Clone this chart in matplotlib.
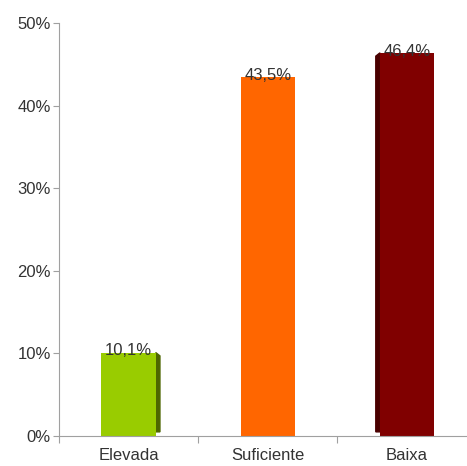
import matplotlib.pyplot as plt
from matplotlib.patches import Polygon
from matplotlib.ticker import FuncFormatter

plt.rcParams['font.family'] = ['Liberation Sans', 'DejaVu Sans']

categories = ['Elevada', 'Suficiente', 'Baixa']
values = [10.1, 43.5, 46.4]
labels = ['10,1%', '43,5%', '46,4%']
colors = ['#99cc00', '#ff6600', '#800000']
side_colors = ['#4d6600', None, '#4a0000']
side_dir = [1, 0, -1]

fig = plt.figure(figsize=(4.67, 4.66), dpi=100)
ax = fig.add_axes([0.1263, 0.0644, 0.8737, 0.886])

x = list(range(len(categories)))
width = 0.39
bars = ax.bar(x, values, width=width, color=colors, zorder=2)

# thin shaded side faces to give the bars a bit of depth
dx, dy = 0.03, 0.4
for bar, sc, d in zip(bars, side_colors, side_dir):
    if sc is None:
        continue
    h = bar.get_height()
    edge = bar.get_x() + (bar.get_width() if d > 0 else 0)
    poly = Polygon([(edge, 0.5), (edge + d * dx, 0.5),
                    (edge + d * dx, h - dy), (edge, h)],
                   closed=True, color=sc, zorder=1)
    ax.add_patch(poly)

for xi, v, lab in zip(x, values, labels):
    ax.text(xi, v + 0.2, lab, ha='center', va='center', fontsize=12,
            color='#333333', zorder=3)

ax.set_xlim(-0.5, 2.43)
ax.set_ylim(0, 50)
ax.set_yticks(range(0, 51, 10))
ax.yaxis.set_major_formatter(FuncFormatter(lambda v, p: f'{int(v)}%'))

ax.set_xticks([-0.5, 0.5, 1.5])
ax.set_xticklabels([])
ax.set_xticks(x, minor=True)
ax.set_xticklabels(categories, minor=True)
ax.tick_params(axis='x', which='major', length=5, color='#a0a0a0', direction='out')
ax.tick_params(axis='x', which='minor', length=0, pad=9, labelsize=12, labelcolor='#333333')
ax.tick_params(axis='y', length=4, color='#a0a0a0', labelsize=12, labelcolor='#333333', pad=2)

for s in ['top', 'right']:
    ax.spines[s].set_visible(False)
for s in ['left', 'bottom']:
    ax.spines[s].set_color('#a0a0a0')

fig.savefig('out.png', dpi=100)
